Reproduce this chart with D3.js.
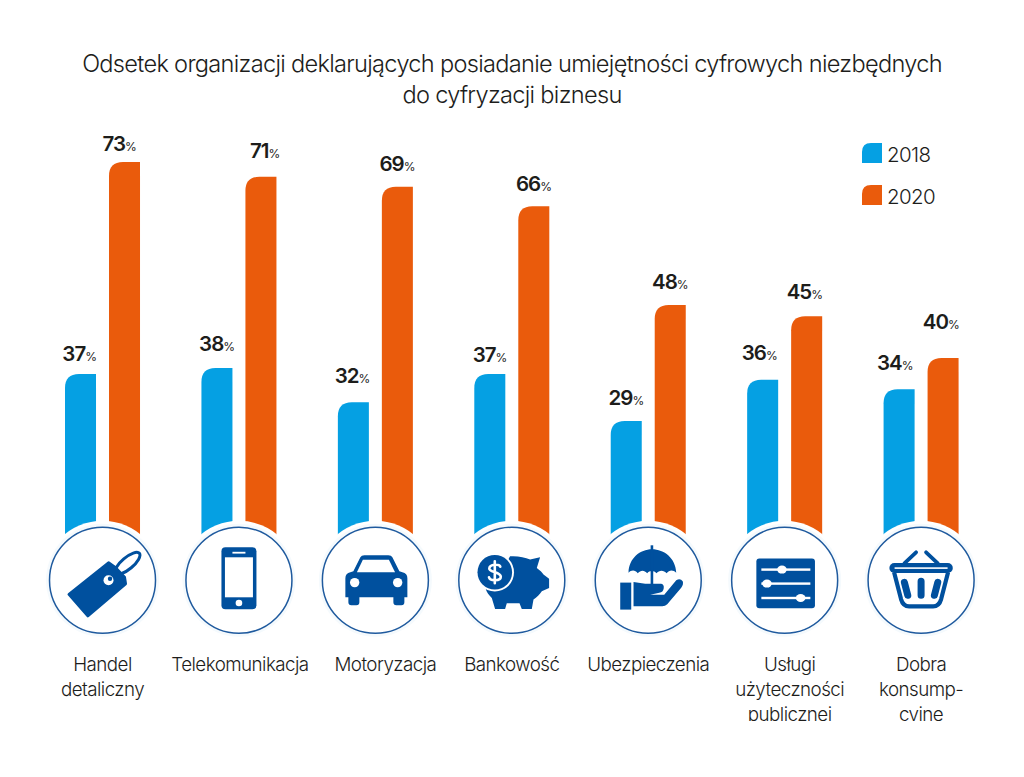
<!DOCTYPE html>
<html lang="pl"><head><meta charset="utf-8">
<script src="https://cdn.jsdelivr.net/npm/d3@7"></script>
<style>
html,body{margin:0;padding:0;background:#fff}
svg{display:block}
text{font-family:Inter,"Liberation Sans",sans-serif;fill:#1d1d1b}
.title{font-size:23.6px;font-weight:300;letter-spacing:-.7px;text-anchor:middle}
.cat{font-size:18.8px;font-weight:300;letter-spacing:-.55px;text-anchor:middle}
.val{font-size:20.5px;font-weight:600;letter-spacing:-1px;text-anchor:middle}
.val tspan{font-size:12px;font-weight:400;letter-spacing:-.3px}
.leg{font-size:20.5px;font-weight:300;letter-spacing:-.6px}
</style></head><body>
<svg id="c" width="1024" height="777"></svg>
<script>
// ---- data ----
const titleLines = ["Odsetek organizacji deklarujących posiadanie umiejętności cyfrowych niezbędnych","do cyfryzacji biznesu"];
const categories = ["Handel detaliczny","Telekomunikacja","Motoryzacja","Bankowość","Ubezpieczenia","Usługi użyteczności publicznej","Dobra konsumpcyjne"];
const categoryLines = [["Handel","detaliczny"],["Telekomunikacja"],["Motoryzacja"],["Bankowość"],["Ubezpieczenia"],["Usługi","użyteczności","publicznej"],["Dobra","konsump-","cyjne"]];
const seriesNames = ["2018","2020"];
// printed values
const labels2018 = [37,38,32,37,29,36,34];
const labels2020 = [73,71,69,66,48,45,40];
// bar lengths as actually drawn in the picture, which differ slightly from the printed values
const bars2018 = [37,38,32.2,37,29,36,34.4];
const bars2020 = [73,70.5,68.8,65.5,48.7,46.8,39.7];
// hand placement of the value labels in the source, in px from the default spot
const lift2018 = [-3,1,3,-4,0,4,3];
const lift2020 = [-5,3,0,-1,0,1,13];
const shift2018 = [-1,0,-1,0,0,-3,-4];
const shift2020 = [-5,4,0,0,0,-2,-2];
const catShift = [0,1,10,0,0,5,0];

// ---- scales ----
const svg = d3.select("#c");
const colors = d3.scaleOrdinal(seriesNames,["#05a0e3","#ea5b0c"]);
const x = d3.scaleBand(categories,[34.3,989.3]).paddingInner(0).paddingOuter(0);
const y = d3.scaleLinear([0,73],[591.8,162]);
const inner = d3.scaleBand(seriesNames,[0,x.bandwidth()]).paddingInner(0.295).paddingOuter(0.698).align(.5);
const cx = c => x(c)+x.bandwidth()/2;

function tabPath(px,py,w,h,r){
  const p=d3.path();p.moveTo(px,py+h);p.lineTo(px,py+r);p.quadraticCurveTo(px,py,px+r,py);p.lineTo(px+w,py);p.lineTo(px+w,py+h);p.closePath();return p.toString();
}

// title
svg.selectAll(".title").data(titleLines).join("text").attr("class","title")
  .attr("x",512).attr("y",(d,i)=>72+i*30.5).text(d=>d);

// bars
const rows=[[bars2018,labels2018,lift2018,shift2018,"2018"],[bars2020,labels2020,lift2020,shift2020,"2020"]];
rows.forEach(([bars,labs,lift,shift,s])=>{
  const g=svg.append("g");
  g.selectAll("path").data(categories).join("path")
    .attr("fill",colors(s))
    .attr("d",(c,i)=>tabPath(x(c)+inner(s),y(bars[i]),inner.bandwidth(),y(0)-y(bars[i]),14));
  const t=svg.append("g").selectAll("text").data(categories).join("text").attr("class","val")
    .attr("x",(c,i)=>x(c)+inner(s)+inner.bandwidth()/2+shift[i])
    .attr("y",(c,i)=>y(bars[i])-16-lift[i]);
  t.text((c,i)=>labs[i]).append("tspan").text("%");
});

// legend
const lg=svg.append("g");
const ly=d3.scalePoint(seriesNames,[143,185]);
seriesNames.forEach(s=>{
  lg.append("path").attr("fill",colors(s)).attr("d",tabPath(862,ly(s),20,20,9));
  lg.append("text").attr("class","leg").attr("x",887).attr("y",ly(s)+19).text(s);
});

// icons
const B="#00509e",W="#fff";
const icons=[
 g=>{ // price tag
  g.append("ellipse").attr("cx",25).attr("cy",-17).attr("rx",15.5).attr("ry",5.8).attr("transform","rotate(-40 25 -17)").attr("fill","none").attr("stroke",B).attr("stroke-width",3);
  g.append("path").attr("fill",B).attr("stroke",B).attr("stroke-width",3).attr("stroke-linejoin","round").attr("d","M-33.5,14L-14.7,35.5L23,3.5L22,-3L13,-12.5L6,-17.5Z");
  g.append("circle").attr("cx",6).attr("cy",0).attr("r",5).attr("fill",W);
  g.append("circle").attr("cx",7.5).attr("cy",-1.5).attr("r",2.2).attr("fill",B);
 },
 g=>{ // phone
  g.append("rect").attr("x",-17.5).attr("y",-33).attr("width",35).attr("height",62).attr("rx",4).attr("fill",B);
  g.append("rect").attr("x",-14).attr("y",-23).attr("width",28).attr("height",40).attr("fill",W);
  g.append("rect").attr("x",-6.5).attr("y",-28.5).attr("width",13).attr("height",1.8).attr("fill",W);
  g.append("circle").attr("cx",0).attr("cy",22.7).attr("r",3.3).attr("fill",W);
 },
 g=>{ // car
  g.append("path").attr("fill",B).attr("d","M-30,-2Q-30,-7 -25,-8L-22,-9L-15,-23Q-14,-25 -11,-25H13Q16,-25 17,-23L24,-9L27,-8Q32,-7 32,-2V17H29V22Q29,25 26,25H21Q18,25 18,22V17H-16V22Q-16,25 -19,25H-24Q-27,25 -27,22V17H-30Z");
  g.append("path").attr("fill",W).attr("d","M-18.5,-8L-12.5,-20.6H13.5L19.7,-8Z");
  g.append("circle").attr("cx",-20.7).attr("cy",2.3).attr("r",4.7).attr("fill",W);
  g.append("circle").attr("cx",22.3).attr("cy",2.3).attr("r",4.7).attr("fill",W);
 },
 g=>{ // piggy bank
  g.append("path").attr("fill",B).attr("d","M-1.7,-24C6,-24.5 13,-23 18.3,-20.7L28.3,-23L25,-12.3C28,-10 30.5,-8 31.7,-5.7L37.3,-1.5V7.7L30,11C28,14 25,17 21.7,19.3L20,28.7H10L7.7,23H-5L-6.7,28.7H-16.7L-20,17.7C-23,15 -25,12 -26,9L-10,-10Z");
  g.append("circle").attr("cx",-17).attr("cy",-8).attr("r",19.2).attr("fill",W);
  g.append("circle").attr("cx",-17).attr("cy",-8).attr("r",17.3).attr("fill",B);
  g.append("path").attr("fill","none").attr("stroke",W).attr("stroke-width",2.6).attr("stroke-linecap","round").attr("d","M-11.5,-13.5C-12,-16.5 -22,-16.5 -22.5,-12C-23,-8 -11,-8.5 -11,-3.5C-11,1 -22,1 -22.8,-3M-17,-19V3");
 },
 g=>{ // umbrella on hand
  g.append("path").attr("fill",B).attr("d","M-19.7,-7.5C-19.5,-22 -8,-31 3.7,-31C16,-31 27.5,-22 28,-7.5C25,-10.5 21,-10.5 18.5,-7C15.5,-10.5 11,-10.5 8.2,-7C6,-10 1,-10 -1,-7C-4,-10.5 -7.5,-10.5 -10.5,-7C-13,-10.5 -17,-10.5 -19.7,-7.5Z");
  g.append("path").attr("fill","none").attr("stroke",B).attr("stroke-width",2.6).attr("d","M3.7,-35V6");
  g.append("rect").attr("x",-28).attr("y",2.3).attr("width",11).attr("height",27).attr("fill",B);
  g.append("path").attr("fill",B).attr("d","M-14.7,1.7L-3,3.5H13Q16,4 15.5,8Q15,12 11,12.5L2,14.5H16L28,0Q32,-2.5 34.5,1Q35.5,4 33,7.5L19,24Q17,26 14,26H-14.7Z");
 },
 g=>{ // sliders
  g.append("rect").attr("x",-28.3).attr("y",-21.7).attr("width",58.6).attr("height",49.7).attr("rx",3).attr("fill",B);
  [[-10.7,-2.7],[3.3,-17.7],[17.7,16]].forEach(([ly,kx])=>{
    g.append("rect").attr("x",-23.3).attr("y",ly-1.2).attr("width",49).attr("height",2.4).attr("fill",W);
    g.append("ellipse").attr("cx",kx).attr("cy",ly).attr("rx",4.8).attr("ry",4).attr("fill",W);
  });
 },
 g=>{ // basket
  g.append("path").attr("fill","none").attr("stroke",B).attr("stroke-width",3.8).attr("stroke-linecap","round").attr("d","M-5,-28L-16.7,-17M5,-28L16.7,-17");
  g.append("path").attr("fill","none").attr("stroke",B).attr("stroke-width",4.2).attr("stroke-linejoin","round").attr("d","M-27,-8L-20,19Q-18,26 -12,26H12Q18,26 20,19L27,-8");
  g.append("rect").attr("x",-31.7).attr("y",-17.3).attr("width",63.4).attr("height",10).attr("rx",5).attr("fill",B);
  g.append("rect").attr("x",-26.5).attr("y",-13).attr("width",53).attr("height",1.6).attr("fill",W);
  g.append("path").attr("fill","none").attr("stroke",B).attr("stroke-width",7).attr("stroke-linecap","round").attr("d","M-16.7,2L-13.3,15M0,1V15M16.7,2L13.3,15");
 }
];

categories.forEach((c,i)=>{
  const g=svg.append("g").attr("transform",`translate(${cx(c)},580.3)`);
  g.append("circle").attr("r",59.5).attr("fill",W);
  g.append("circle").attr("r",56.5).attr("fill","#f5fafd");
  g.append("circle").attr("r",53).attr("fill",W).attr("stroke","#1f5a9e").attr("stroke-width",1.5);
  icons[i](g);
});

// category labels, clipped at the bottom as in the source
svg.append("clipPath").attr("id","catclip").append("rect").attr("x",0).attr("y",640).attr("width",1024).attr("height",81);
const cg=svg.append("g").attr("clip-path","url(#catclip)");
categories.forEach((c,i)=>{
  cg.selectAll(null).data(categoryLines[i]).join("text").attr("class","cat")
    .attr("x",cx(c)+catShift[i]).attr("y",(d,j)=>671+j*25).text(d=>d);
});
</script></body></html>
